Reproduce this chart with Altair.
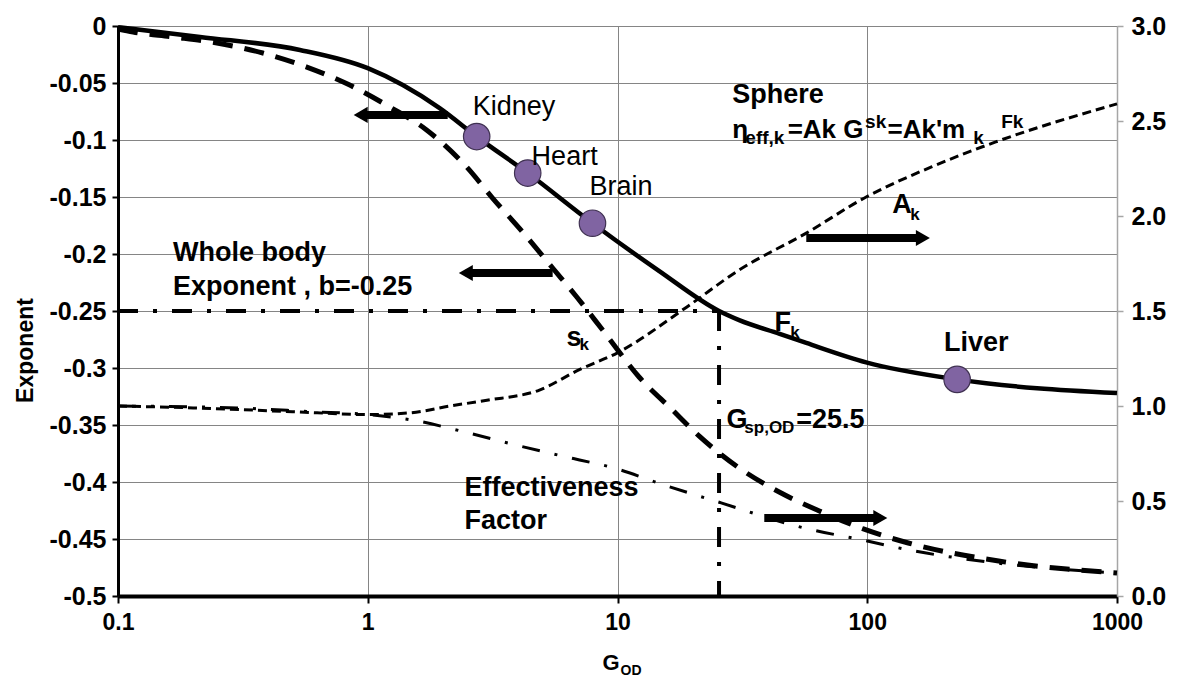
import altair as alt
import pandas as pd

FONT = "Liberation Sans"

# ---------------- data ----------------
# F_k curve (left axis, exponent)
fk_x = [0.1, 0.213, 0.535, 1.0, 1.94, 2.73, 4.37, 7.94, 14.7, 25.5, 30.7, 44.6, 57, 99, 229, 1000]
fk_y = [-0.001, -0.0096, -0.021, -0.037, -0.072, -0.097, -0.129, -0.173, -0.215, -0.25,
        -0.258, -0.270, -0.278, -0.295, -0.310, -0.322]

# s_k curve (left axis)
sk_x = [0.1, 0.115, 0.166, 0.249, 0.38, 0.57, 0.847, 1.225, 1.72, 2.49, 3.16, 4.17, 5.5,
        6.87, 8.72, 12.2, 16.6, 21.2, 30.7, 44.4, 64.3, 96.5, 146, 336, 1000]
sk_y = [-0.0026, -0.0053, -0.0096, -0.0149, -0.0237, -0.036, -0.0518, -0.071, -0.0912,
        -0.1237, -0.1509, -0.1807, -0.2123, -0.2377, -0.2667, -0.3079, -0.3368, -0.3596,
        -0.3877, -0.4088, -0.4254, -0.4412, -0.4535, -0.4693, -0.4798]

# A_k curve (right axis)
ak_x = [0.1, 0.2, 0.5, 1.0, 1.5, 2.13, 3.0, 4.87, 7.0, 10, 18.9, 30.7, 57, 99, 182, 327, 1000]
ak_v = [1.00, 0.99, 0.97, 0.955, 0.965, 1.00, 1.03, 1.084, 1.19, 1.28, 1.52, 1.716, 1.91,
        2.10, 2.26, 2.39, 2.59]

# Effectiveness factor (right axis)
ef_x = [0.1, 0.3, 0.6, 1.0, 1.6, 2.33, 4.05, 7.05, 9.3, 15.7, 26, 55, 95.5, 150, 300, 1000]
ef_v = [1.00, 0.99, 0.97, 0.955, 0.92, 0.87, 0.79, 0.716, 0.68, 0.58, 0.49, 0.36, 0.295,
        0.24, 0.18, 0.12]

# whole body exponent b = -0.25 and G_sp,OD = 25.5
wb_x = [0.1, 25.5, 25.5, 25.5]
wb_y = [-0.25, -0.25, -0.25, -0.5]
wb_seg = ["h", "h", "v", "v"]

# organs
organ_names = ["Kidney", "Heart", "Brain", "Liver"]
organ_x = [2.73, 4.37, 7.94, 229]
organ_y = [-0.097, -0.129, -0.173, -0.310]

# arrows (shaft start, head, level on left axis, direction)
arrow_x1 = [2.09, 5.5, 57, 38.7]
arrow_x2 = [0.937, 2.47, 167, 112.8]
arrow_y = [-0.078, -0.2167, -0.186, -0.4316]
arrow_shape = ["triangle-left", "triangle-left", "triangle-right", "triangle-right"]

# ticks
x_ticks = [0.1, 1, 10, 100, 1000]
left_ticks = [0, -0.05, -0.1, -0.15, -0.2, -0.25, -0.3, -0.35, -0.4, -0.45, -0.5]
right_ticks = [0, 0.5, 1.0, 1.5, 2.0, 2.5, 3.0]

# annotations
big_bold_t = ["Whole body", "Exponent , b=-0.25", "Effectiveness", "Factor", "Sphere",
              "Liver", "A", "F", "s", "G", "=25.5"]
big_bold_x = [0.166, 0.166, 2.44, 2.44, 28.8, 203, 126, 42.5, 6.25, 27.3, 52.0]
big_bold_y = [-0.199, -0.229, -0.405, -0.434, -0.0605, -0.278, -0.157, -0.2605, -0.2737,
              -0.3456, -0.3456]

organ_lbl_t = ["Kidney", "Heart", "Brain"]
organ_lbl_x = [2.63, 4.53, 7.73]
organ_lbl_y = [-0.0711, -0.115, -0.141]

sub_t = ["k", "k", "k", "sp,OD"]
sub_x = [148.6, 49.2, 7.05, 32.2]
sub_y = [-0.1658, -0.2693, -0.2798, -0.3526]

formula_big_t = ["\u03b7", "=Ak G", "=Ak'm"]
formula_big_x = [28.8, 48.0, 120.5]
formula_big_y = [-0.0982, -0.0982, -0.0982]

formula_small_t = ["eff,k", "sk", "k", "Fk"]
formula_small_x = [32.5, 98.0, 265.5, 343.6]
formula_small_y = [-0.1035, -0.0895, -0.1035, -0.0895]

# x-axis title G_OD (main letter + subscript), placed below the plot
gt_t = ["G", "OD"]
gt_x = [8.71, 10.28]
gt_y = [-0.5588, -0.5655]
gt_size = [22, 14]

# ---------------- scales & axes ----------------
xscale = alt.Scale(type="log", domain=[0.1, 1000], nice=False)
yl = alt.Scale(domain=[-0.5, 0], nice=False, zero=False)
yr = alt.Scale(domain=[0, 3], nice=False, zero=False)

x_axis = alt.Axis(values=x_ticks, labelExpr="format(datum.value, '~g')", grid=True,
                  gridColor="#858585", gridWidth=1, domainColor="black", domainWidth=4,
                  tickColor="black", tickSize=7, tickWidth=2, labelFontSize=23,
                  labelFontWeight="bold", labelColor="black", labelFont=FONT,
                  labelPadding=8, labelFlush=False, labelOverlap=False, title="")

yl_axis = alt.Axis(values=left_ticks,
                   labelExpr="datum.value == 0 ? '0' : '-' + format(-datum.value, '~g')",
                   grid=True, gridColor="#858585", gridWidth=1, domainColor="black",
                   domainWidth=3, tickColor="black", tickSize=6, tickWidth=2,
                   labelFontSize=25, labelFontWeight="bold", labelColor="black",
                   labelFont=FONT, labelPadding=6, labelFlush=False, labelOverlap=False,
                   title="Exponent", titleFont=FONT, titleFontSize=23, titleFontWeight="bold",
                   titleColor="black", titleX=-93, titleY=324, titleAngle=270,
                   titleAlign="center", titleBaseline="middle")

yr_axis = alt.Axis(orient="right", values=right_ticks, format=".1f", grid=False,
                   domainColor="#a6a6a6", domainWidth=1.5, tickColor="#a6a6a6", tickSize=6,
                   tickWidth=1.5, labelFontSize=25, labelFontWeight="bold",
                   labelColor="black", labelFont=FONT, labelPadding=8, labelFlush=False,
                   labelOverlap=False, title="")


def X(field="x"):
    return alt.X(f"{field}:Q", scale=xscale, axis=x_axis)


def YL(field="y", axis=None):
    return alt.Y(f"{field}:Q", scale=yl, axis=axis)


ak_df = pd.DataFrame({"x": ak_x, "v": ak_v})
ef_df = pd.DataFrame({"x": ef_x, "v": ef_v})
fk_df = pd.DataFrame({"x": fk_x, "y": fk_y})
sk_df = pd.DataFrame({"x": sk_x, "y": sk_y})
wb_df = pd.DataFrame({"x": wb_x, "y": wb_y, "seg": wb_seg})
org_df = pd.DataFrame({"name": organ_names, "x": organ_x, "y": organ_y})
head_df = pd.DataFrame({"x": arrow_x2, "y": arrow_y, "shape": arrow_shape})
shaft_df = pd.DataFrame({
    "x": arrow_x1 + arrow_x2,
    "y": arrow_y + arrow_y,
    "a": list(range(len(arrow_y))) * 2,
})

fk_line = alt.Chart(fk_df).mark_line(color="black", strokeWidth=4.5,
                                     interpolate="monotone").encode(
    x=X(), y=YL(axis=yl_axis))

ak_line = alt.Chart(ak_df).mark_line(color="black", strokeWidth=3, strokeDash=[9, 5],
                                     interpolate="monotone").encode(
    x=X(), y=alt.Y("v:Q", scale=yr, axis=yr_axis))
ef_line = alt.Chart(ef_df).mark_line(color="black", strokeWidth=3,
                                     strokeDash=[18, 15, 3, 15],
                                     interpolate="monotone").encode(
    x=X(), y=alt.Y("v:Q", scale=yr, axis=None))

sk_line = alt.Chart(sk_df).mark_line(color="black", strokeWidth=5, strokeDash=[20, 12],
                                     interpolate="monotone").encode(x=X(), y=YL())
wb_line = alt.Chart(wb_df).mark_line(color="black", strokeWidth=4,
                                     strokeDash=[20, 15, 4, 15]).encode(
    x=X(), y=YL(), detail="seg:N")

arrow_shaft = alt.Chart(shaft_df).mark_line(color="black", strokeWidth=8).encode(
    x=X(), y=YL(), detail="a:N")
arrow_head = alt.Chart(head_df).mark_point(filled=True, color="black", opacity=1,
                                           size=260).encode(
    x=X(), y=YL(), shape=alt.Shape("shape:N", scale=None))

dots = alt.Chart(org_df).mark_point(filled=True, fill="#8064a2", stroke="#3f3151",
                                    strokeWidth=1.2, opacity=1, size=700).encode(
    x=X(), y=YL())


def text_layer(texts, xs, ys, size, weight, baseline="middle"):
    df = pd.DataFrame({"t": texts, "x": xs, "y": ys})
    return alt.Chart(df).mark_text(align="left", baseline=baseline, fontSize=size,
                                   fontWeight=weight, font=FONT, color="black").encode(
        x=X(), y=YL(), text="t:N")


t_big = text_layer(big_bold_t, big_bold_x, big_bold_y, 27, "bold")
t_org = text_layer(organ_lbl_t, organ_lbl_x, organ_lbl_y, 27, "normal")
t_sub = text_layer(sub_t, sub_x, sub_y, 17, "bold")
t_fbig = text_layer(formula_big_t, formula_big_x, formula_big_y, 26, "bold", "alphabetic")
t_fsmall = text_layer(formula_small_t, formula_small_x, formula_small_y, 19, "bold",
                      "alphabetic")

gt_df = pd.DataFrame({"t": gt_t, "x": gt_x, "y": gt_y, "s": gt_size})
g_title = alt.Chart(gt_df).mark_text(align="left", baseline="middle", fontWeight="bold",
                                     font=FONT, color="black").encode(
    x=X(), y=YL(), text="t:N", size=alt.Size("s:Q", scale=None))

chart = alt.layer(
    fk_line, ak_line, ef_line, wb_line, sk_line, arrow_shaft, arrow_head, dots,
    t_big, t_org, t_sub, t_fbig, t_fsmall, g_title
).resolve_scale(y="independent").properties(
    width=999, height=570,
    padding={"left": 110, "top": 18, "right": 55, "bottom": 95},
    autosize=alt.AutoSizeParams(type="none"),
    background="white",
).configure_view(stroke=None)

chart.save("out.html", embed_options={"renderer": "svg", "actions": False})
